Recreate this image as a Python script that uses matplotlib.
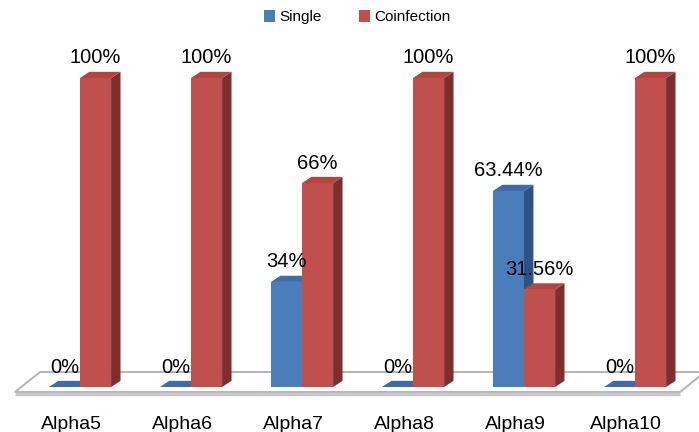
import numpy as np
import matplotlib.pyplot as plt
from matplotlib.patches import Polygon, Patch

plt.rcParams['font.family'] = ['Liberation Sans', 'DejaVu Sans']

categories = ['Alpha5', 'Alpha6', 'Alpha7', 'Alpha8', 'Alpha9', 'Alpha10']
single = [0, 0, 34, 0, 63.44, 0]
coinfection = [100, 100, 66, 100, 31.56, 100]
single_labels = ['0%', '0%', '34%', '0%', '63.44%', '0%']
coinf_labels = ['100%', '100%', '66%', '100%', '31.56%', '100%']

# front / side / top shades for the pseudo-3d columns
blue = ('#4a7ebb', '#2c5386', '#3d6ca9')
red = ('#c0504d', '#7e2f2d', '#b5443f')

fig = plt.figure(figsize=(6.99, 4.32), dpi=100)
ax = fig.add_axes([0, 0, 1, 1])
ax.set_xlim(-0.7207, 5.5766)
ax.set_ylim(-14.56, 125.24)
ax.axis('off')

x = np.arange(len(categories))
w = 0.28
dx, dy = 0.085, 2.0

# floor slab
fl_left, fl_right, fl_front = -0.586, len(categories) - 1 + 0.405, -1.62
fdx, fdy = 0.225, 6.47
floor = Polygon([(fl_left, fl_front), (fl_right, fl_front),
                 (fl_right + fdx, fl_front + fdy), (fl_left + fdx, fl_front + fdy)],
                closed=True, facecolor='white', edgecolor='#b4b4b4', lw=1.4, zorder=1)
ax.add_patch(floor)
ax.plot([fl_left, fl_right], [fl_front - 0.5, fl_front - 0.5], color='#c8c8c8', lw=2.5,
        zorder=1, solid_capstyle='butt')


def draw_3d(bars, shades, z):
    front, side, top = shades
    for b in bars:
        x0, bw, h = b.get_x(), b.get_width(), b.get_height()
        b.set_facecolor(front)
        b.set_edgecolor('none')
        b.set_zorder(z)
        ax.add_patch(Polygon([(x0 + bw, 0), (x0 + bw + dx, dy), (x0 + bw + dx, h + dy), (x0 + bw, h)],
                             closed=True, facecolor=side, edgecolor='none', zorder=z - 0.1))
        ax.add_patch(Polygon([(x0, h), (x0 + bw, h), (x0 + bw + dx, h + dy), (x0 + dx, h + dy)],
                             closed=True, facecolor=top, edgecolor='none', zorder=z - 0.1))


bars_s = ax.bar(x - w / 2, single, w)
draw_3d(bars_s, blue, 3)
# coinfection columns sit in front of the single columns' side faces
bars_c = ax.bar(x + w / 2, coinfection, w)
draw_3d(bars_c, red, 3.5)

for bars, labels in ((bars_s, single_labels), (bars_c, coinf_labels)):
    for b, lab in zip(bars, labels):
        ax.annotate(lab, (b.get_x() + b.get_width() / 2, b.get_height()),
                    xytext=(0, 14.4), textcoords='offset points',
                    ha='center', va='center', fontsize=14.5, color='black', zorder=6)

for xi, name in zip(x, categories):
    ax.annotate(name, (xi - 0.08, 0), xytext=(0, -30), textcoords='offset points',
                ha='center', va='baseline', fontsize=14, color='black')

handles = [Patch(facecolor=blue[0]), Patch(facecolor=red[0])]
fig.legend(handles, ['Single', 'Coinfection'], loc='center', bbox_to_anchor=(0.511, 0.96),
           ncol=2, frameon=False, fontsize=11, handlelength=0.75, handleheight=0.75,
           handletextpad=0.3, columnspacing=2.4)

fig.savefig('out.png', dpi=100)
